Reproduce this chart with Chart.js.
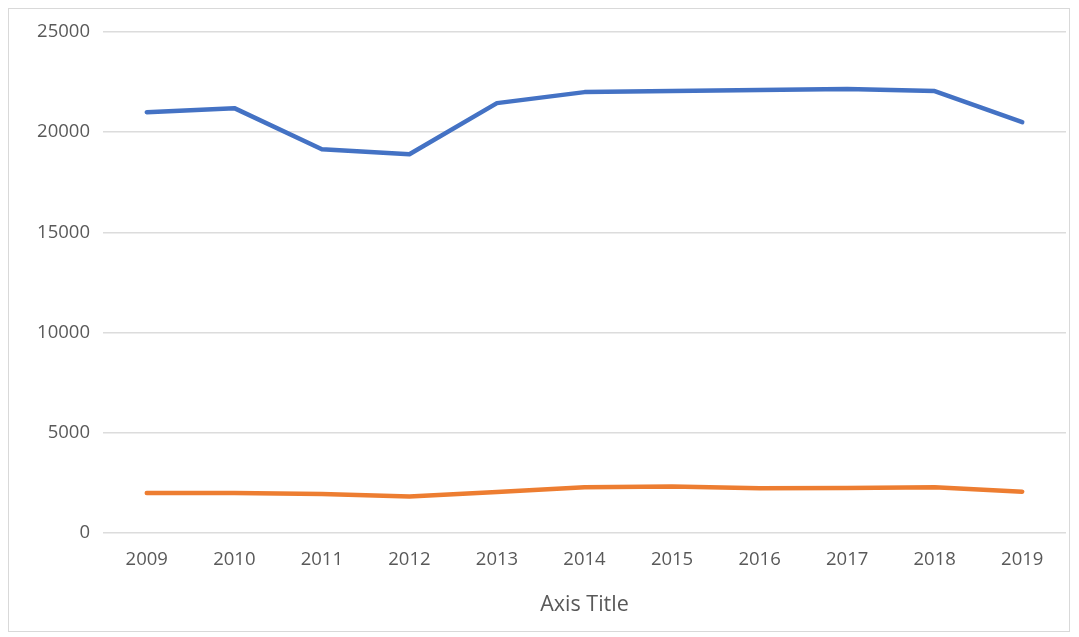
<!DOCTYPE html>
<html>
<head>
<meta charset="utf-8">
<script src="https://cdn.jsdelivr.net/npm/chart.js@4/dist/chart.umd.min.js"></script>
<style>
  html, body { margin: 0; padding: 0; background: #fff; }
  #wrap { position: absolute; left: 0; top: 0; width: 1079px; height: 637px; }
  #frame { position: absolute; left: 8px; top: 8px; width: 1062px; height: 624px; border: 1px solid #d9d9d9; box-sizing: border-box; pointer-events: none; }
</style>
</head>
<body>
<div id="wrap"><canvas id="c" width="1079" height="637"></canvas></div>
<div id="frame"></div>
<script>
const categories = ['2009','2010','2011','2012','2013','2014','2015','2016','2017','2018','2019'];
const series1 = [21000, 21200, 19150, 18900, 21450, 22000, 22050, 22100, 22150, 22050, 20500];
const series2 = [2000, 2000, 1950, 1820, 2050, 2280, 2320, 2230, 2250, 2280, 2060];
const yTicks = [0, 5000, 10000, 15000, 20000, 25000];

const fontFamily = "'Open Sans', 'Noto Sans', sans-serif";

new Chart(document.getElementById('c'), {
  type: 'line',
  data: {
    labels: categories,
    datasets: [
      { label: 'Series1', data: series1, borderColor: '#4472C4', backgroundColor: '#4472C4', borderWidth: 4.5, pointRadius: 0, tension: 0, borderJoinStyle: 'round', borderCapStyle: 'round' },
      { label: 'Series2', data: series2, borderColor: '#ED7D31', backgroundColor: '#ED7D31', borderWidth: 4.5, pointRadius: 0, tension: 0, borderJoinStyle: 'round', borderCapStyle: 'round' }
    ]
  },
  options: {
    responsive: false,
    animation: false,
    devicePixelRatio: 1,
    layout: { padding: { left: 0, right: 13, top: 32, bottom: 15 } },
    plugins: { legend: { display: false }, tooltip: { enabled: false } },
    scales: {
      x: {
        offset: true,
        grid: { display: false, drawTicks: false },
        border: { display: false },
        ticks: { color: '#595959', font: { family: fontFamily, size: 18.5 }, padding: 16, maxRotation: 0 },
        title: { display: true, text: 'Axis Title', color: '#595959', font: { family: fontFamily, size: 21.5 }, padding: { top: 5, bottom: 4 } }
      },
      y: {
        min: 0, max: 25000,
        afterFit: (s) => { s.width = 103; },
        afterBuildTicks: (s) => { s.ticks = yTicks.map(v => ({ value: v })); },
        grid: { color: '#dcdcdc', lineWidth: 1.5, drawTicks: false },
        border: { display: false },
        ticks: { color: '#595959', font: { family: fontFamily, size: 18.5 }, padding: 13, callback: (v) => String(v) }
      }
    }
  }
});
</script>
</body>
</html>
